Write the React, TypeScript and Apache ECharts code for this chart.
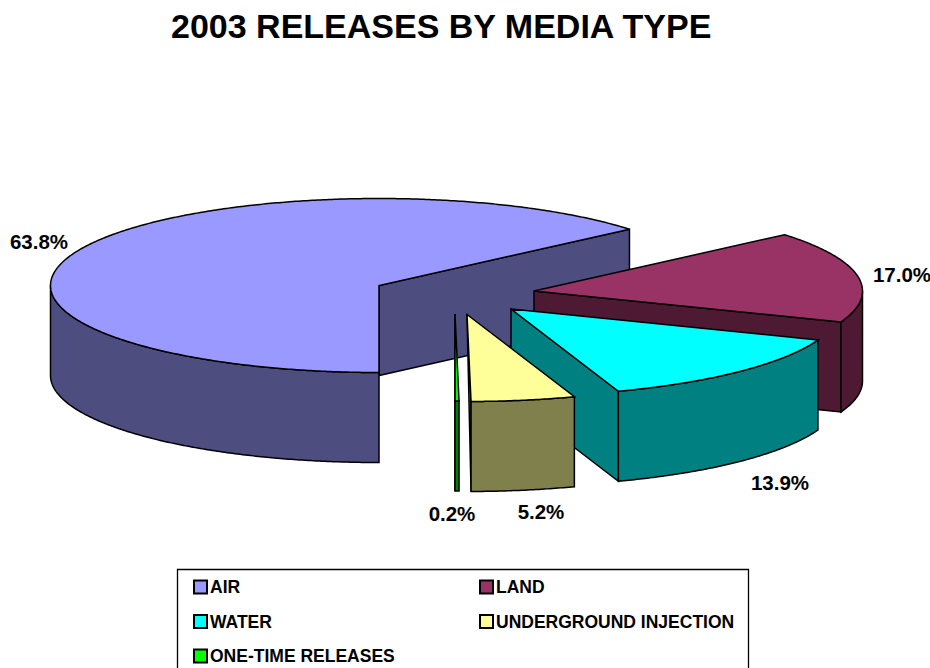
import React, { useEffect, useRef } from "react";
import * as echarts from "echarts";

const titleText = "2003 RELEASES BY MEDIA TYPE";
const mediaNames = ["AIR", "LAND", "WATER", "ONE-TIME RELEASES", "UNDERGROUND INJECTION"];
const shares = [63.8, 17.0, 13.9, 0.2, 5.2];
const leftLegend = ["AIR", "WATER", "ONE-TIME RELEASES"];
const rightLegend = ["LAND", "UNDERGROUND INJECTION"];

// Pie slices are walked clockwise from six o'clock in this order; One-time comes last.
const sweepOrder = [0, 1, 2, 4, 3];

const faceColors = ["#9999FF", "#993366", "#00FFFF", "#00FF00", "#FFFF99"];
const wallColors = ["#4D4D80", "#4D1933", "#008080", "#008000", "#80804D"];

// Exploded slice apexes in pixels, and where each percentage sits.
const apexX = [379, 534, 511, 455, 467];
const apexY = [285.5, 291, 309, 314, 314.5];
const labelX = [39, 902, 780, 452, 541];
const labelY = [241, 274, 482, 513, 511];

const RX = 328.5;
const RY = 87;
const DEPTH = 90;
const FONT = '"Liberation Sans", Arial, sans-serif';
const STROKE = { stroke: "#000", lineWidth: 1.5, lineJoin: "miter" as const, miterLimit: 3 };

// The rounded shares add up to 100.1, so the two smallest slices absorb the overshoot.
const largeSweep = [0, 1, 2].reduce((sum, i) => sum + shares[i] * 3.6, 0);
const tailScale = (360 - largeSweep) / ((shares[3] + shares[4]) * 3.6);
const angleRanges: Record<number, [number, number]> = {};
let running = 0;
for (const i of sweepOrder) {
  const next = running + shares[i] * 3.6 * (i === 3 || i === 4 ? tailScale : 1);
  angleRanges[i] = [running, next];
  running = next;
}

const rimPoint = (i: number, deg: number, drop = 0): number[] => {
  const t = (deg * Math.PI) / 180;
  return [apexX[i] - RX * Math.sin(t), apexY[i] + RY * Math.cos(t) + drop];
};

const arc = (i: number, from: number, to: number, drop = 0): number[][] => {
  const pts: number[][] = [];
  const steps = Math.max(2, Math.ceil(Math.abs(to - from) * 2));
  for (let k = 0; k <= steps; k++) pts.push(rimPoint(i, from + ((to - from) * k) / steps, drop));
  return pts;
};

const buildSlice = (i: number, value: number) => {
  const [start, end] = angleRanges[i];
  const children: any[] = [];
  const wallStyle = { fill: wallColors[i], ...STROKE };

  // Cut face at the trailing edge; a nearly edge-on one tapers into the apex.
  const rimTop = rimPoint(i, end);
  const rimBottom = rimPoint(i, end, DEPTH);
  const edgeOn = Math.abs(Math.sin((end * Math.PI) / 180)) < 0.05;
  const cut = edgeOn
    ? [[apexX[i], apexY[i]], rimTop, rimBottom]
    : [[apexX[i], apexY[i]], rimTop, rimBottom, [apexX[i], apexY[i] + DEPTH]];
  children.push({ type: "polygon", shape: { points: cut }, style: wallStyle });

  // Outer wall, only where the rim faces the viewer.
  const visible: [number, number][] = [[0, 90], [270, 360]];
  for (const [a, b] of visible) {
    const from = Math.max(a, start);
    const to = Math.min(b, end);
    if (to > from) {
      children.push({
        type: "polygon",
        shape: { points: [...arc(i, from, to), ...arc(i, to, from, DEPTH)] },
        style: wallStyle,
      });
    }
  }

  children.push({
    type: "polygon",
    shape: { points: [[apexX[i], apexY[i]], ...arc(i, start, end)] },
    style: { fill: faceColors[i], ...STROKE },
  });

  children.push({
    type: "text",
    style: {
      text: `${value.toFixed(1)}%`,
      x: labelX[i],
      y: labelY[i],
      align: "center",
      verticalAlign: "middle",
      font: `bold 20.5px ${FONT}`,
      fill: "#000",
    },
  });
  return { type: "group", children };
};

const legendBase = {
  orient: "vertical" as const,
  top: 578,
  padding: 0,
  itemWidth: 13,
  itemHeight: 13,
  itemGap: 16.5,
  selectedMode: false,
  icon: "rect",
  textStyle: { fontFamily: FONT, fontWeight: "bold" as const, fontSize: 17.5, color: "#000", padding: [0, 0, 0, -2] },
};

export default function App() {
  const ref = useRef<HTMLDivElement>(null);

  useEffect(() => {
    document.body.style.margin = "0";
    const chart = echarts.init(ref.current!, null, { renderer: "svg" });
    chart.setOption({
      animation: false,
      backgroundColor: "#fff",
      title: {
        text: titleText,
        left: 171,
        top: 9,
        padding: 0,
        textStyle: { fontFamily: FONT, fontWeight: "bold", fontSize: 34, color: "#000" },
      },
      graphic: [
        {
          type: "rect",
          z: -1,
          shape: { x: 177.5, y: 569.5, width: 571, height: 130 },
          style: { fill: "#fff", stroke: "#000", lineWidth: 1.3 },
        },
      ],
      legend: [
        { ...legendBase, left: 193, data: leftLegend },
        { ...legendBase, left: 479, data: rightLegend },
      ],
      series: mediaNames.map((name, i) => ({
        type: "custom",
        name,
        coordinateSystem: "none",
        silent: true,
        itemStyle: { color: faceColors[i], borderColor: "#000", borderWidth: 1.3 },
        data: [[shares[i]]],
        renderItem: (_p: any, api: any) => buildSlice(i, api.value(0)),
      })),
    });
    return () => chart.dispose();
  }, []);

  return <div ref={ref} style={{ width: 930, height: 668 }} />;
}
